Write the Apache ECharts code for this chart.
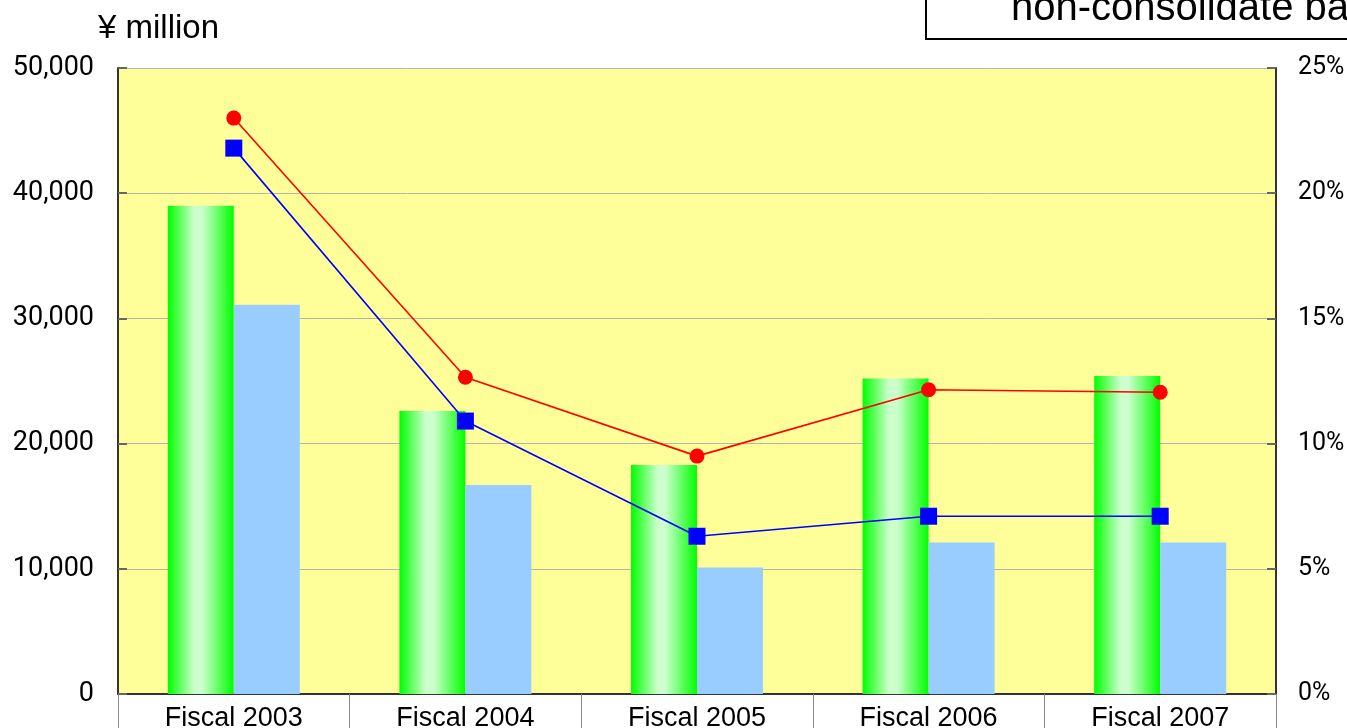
<!DOCTYPE html>
<html><head><meta charset="utf-8">
<script src="https://cdn.jsdelivr.net/npm/echarts@6/dist/echarts.min.js"></script>
<style>html,body{margin:0;padding:0;background:#fff}#c{width:1347px;height:728px}</style>
</head><body><div id="c"></div>
<script>
const categories = ['Fiscal 2003','Fiscal 2004','Fiscal 2005','Fiscal 2006','Fiscal 2007'];
const greenBars = [39000, 22600, 18300, 25200, 25400];
const blueBars = [31100, 16700, 10100, 12100, 12100];
const redRatio = [23.0, 12.65, 9.5, 12.15, 12.05];
const blueRatio = [21.8, 10.9, 6.3, 7.1, 7.1];
const titleText = 'non-consolidate basis';
const unitText = '¥ million';

const numFont = 'Roboto, "Liberation Sans", sans-serif';
const regular = '"Liberation Sans", Arial, sans-serif';
const chart = echarts.init(document.getElementById('c'), null, {renderer:'canvas'});
chart.setOption({
  animation:false,
  backgroundColor:'#fff',
  grid:{left:118, right:71, top:68, bottom:34, show:true, backgroundColor:'#ffff99', borderWidth:0,
    containLabel:false, outerBoundsMode:'none'},
  graphic:[
    {type:'rect', shape:{x:926, y:-5, width:440, height:44}, style:{fill:'#fff', stroke:'#000', lineWidth:2}},
    {type:'text', left:1011, top:-11, style:{text:titleText, font:'40px ' + regular, fill:'#000'}},
    {type:'text', left:98, top:12, style:{text:unitText, font:'33px ' + regular, fill:'#000'}}
  ],
  xAxis:{type:'category', data:categories, boundaryGap:true,
    axisLine:{lineStyle:{color:'#333', width:2}},
    axisTick:{show:true, length:40, lineStyle:{color:'#888', width:1}},
    axisLabel:{color:'#000', fontSize:27, fontFamily:regular, margin:11}},
  yAxis:[
    {type:'value', min:0, max:50000, interval:10000,
      axisLine:{show:true, lineStyle:{color:'#333', width:2}},
      axisTick:{show:true, inside:true, length:9, lineStyle:{color:'#666', width:2}},
      splitLine:{lineStyle:{color:'#b4b4b4', width:1}},
      axisLabel:{color:'#000', fontSize:27, fontFamily:numFont, margin:24,
        formatter:v=>v.toLocaleString('en-US')}},
    {type:'value', min:0, max:25, interval:5, position:'right',
      axisLine:{show:true, lineStyle:{color:'#333', width:2}},
      axisTick:{show:true, inside:true, length:9, lineStyle:{color:'#666', width:2}},
      splitLine:{show:false},
      axisLabel:{color:'#000', fontSize:25, fontFamily:numFont, margin:22, formatter:v=>v+'%'}}
  ],
  series:[
    {type:'bar', data:greenBars, barWidth:66, barGap:'0%',
      itemStyle:{color:new echarts.graphic.LinearGradient(0,0,1,0,[
        {offset:0,color:'#00ff00'},{offset:0.4,color:'#ccffcc'},{offset:0.52,color:'#ccffcc'},{offset:1,color:'#00ff00'}])}},
    {type:'bar', data:blueBars, barWidth:66, barGap:'0%', itemStyle:{color:'#99ccff'}},
    {type:'line', yAxisIndex:1, data:redRatio, symbol:'circle', symbolSize:15,
      lineStyle:{color:'#ff0000', width:1.6}, itemStyle:{color:'#ff0000'}},
    {type:'line', yAxisIndex:1, data:blueRatio, symbol:'rect', symbolSize:17,
      lineStyle:{color:'#0000ff', width:1.6}, itemStyle:{color:'#0000ff'}}
  ]
});
</script></body></html>
